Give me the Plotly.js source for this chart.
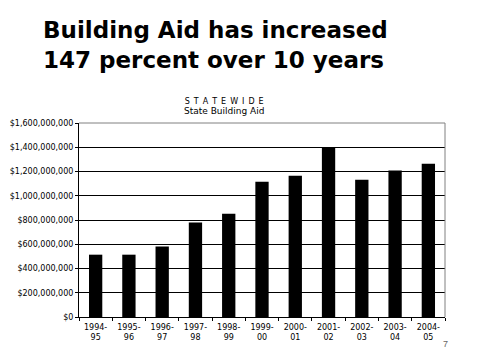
<!DOCTYPE html>
<html><head><meta charset="utf-8">
<script src="https://cdn.plot.ly/plotly-3.0.1.min.js"></script>
<style>html,body{margin:0;padding:0;background:#fff;}#chart{width:479px;height:359px;}</style>
</head><body><div id="chart"></div>
<script>
var years = ["1994-<br>95","1995-<br>96","1996-<br>97","1997-<br>98","1998-<br>99","1999-<br>00","2000-<br>01","2001-<br>02","2002-<br>03","2003-<br>04","2004-<br>05"];
var aid = [514000000, 514000000, 582000000, 780000000, 852000000, 1116000000, 1165000000, 1402000000, 1132000000, 1209000000, 1264000000];
var yTicks = [0, 200000000, 400000000, 600000000, 800000000, 1000000000, 1200000000, 1400000000, 1600000000];
var yTickText = ["$0","$200,000,000","$400,000,000","$600,000,000","$800,000,000","$1,000,000,000","$1,200,000,000","$1,400,000,000","$1,600,000,000"];

var trace = {type:"bar", x:years, y:aid, marker:{color:"#000000", line:{width:0}}, hoverinfo:"skip"};
var tickFont = {family:"DejaVu Sans, sans-serif", size:8, color:"#000"};
var layout = {
  width:479, height:359,
  margin:{l:79, r:34, t:123, b:42, pad:0},
  paper_bgcolor:"#fff", plot_bgcolor:"#fff",
  showlegend:false, bargap:0.6,
  xaxis:{type:"category", showline:true, linecolor:"#000", linewidth:1, ticks:"outside", tickson:"boundaries",
    ticklen:3, tickcolor:"#000", tickfont:tickFont, ticklabelstandoff:2, showgrid:false, zeroline:false, fixedrange:true},
  yaxis:{range:[0,1600000000], tickvals:yTicks, ticktext:yTickText, showline:true, linecolor:"#000", linewidth:1,
    ticks:"outside", ticklen:3, tickcolor:"#000", tickfont:tickFont, showgrid:true, gridcolor:"#000", gridwidth:1,
    zeroline:false, fixedrange:true},
  shapes:[
    {type:"line", xref:"paper", yref:"paper", x0:0, x1:1, y0:1, y1:1, line:{color:"#808080", width:1}},
    {type:"line", xref:"paper", yref:"paper", x0:1, x1:1, y0:0, y1:1, line:{color:"#808080", width:1}}
  ],
  annotations:[
    {xref:"paper", yref:"paper", x:-0.105, xanchor:"left", y:1, yanchor:"bottom", yshift:48, showarrow:false, align:"left",
      text:"<b>Building Aid has increased<br>147 percent over 10 years</b>",
      font:{family:"DejaVu Sans, sans-serif", size:23, color:"#000"}},
    {xref:"paper", yref:"paper", x:0.395, xanchor:"center", y:1, yanchor:"bottom", yshift:5, showarrow:false,
      text:"S\u2002T\u2002A\u2002T\u2002E\u2002W\u2002I\u2002D\u2002E<br><span style='font-size:9px'>State Building Aid</span>",
      font:{family:"DejaVu Sans, sans-serif", size:8, color:"#000"}},
    {xref:"paper", yref:"paper", x:1, xanchor:"center", y:0, yanchor:"top", yshift:-20, showarrow:false,
      text:"7", font:{family:"Liberation Sans, Arial, sans-serif", size:9, color:"#666"}}
  ]
};
Plotly.newPlot("chart", [trace], layout, {displayModeBar:false, staticPlot:true});
</script></body></html>
